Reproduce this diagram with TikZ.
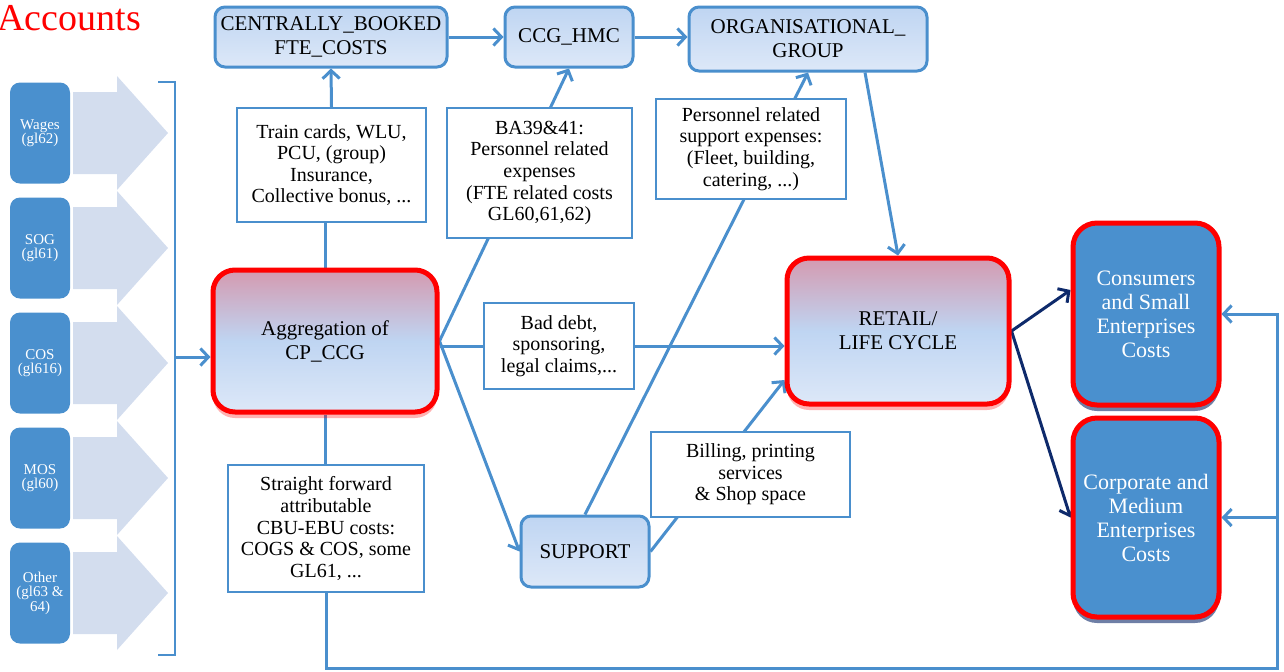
\documentclass[tikz,border=0pt]{standalone}
\usepackage{fontspec}
\setmainfont{Liberation Serif}
\usepackage{xcolor}
\usetikzlibrary{arrows.meta,shadows}
\pgfdeclarelayer{bg}
\pgfsetlayers{bg,main}

\begin{document}
\begin{tikzpicture}[x=0.5pt,y=-0.5pt,
  conn/.style={draw=lnblue,line width=1.5pt},
  arr/.style={conn,-{Straight Barb[length=4pt,width=8.5pt]}},
  darr/.style={draw=navy,line width=1.5pt,-{Straight Barb[length=4pt,width=8.5pt]}},
  glbox/.style={rounded corners=5pt,fill=glblue,text=white,minimum width=30pt,minimum height=50.5pt,inner sep=1pt,align=center,font=\fontsize{7.5}{7.2}\selectfont},
  flowbox/.style={draw=lnblue,line width=1.5pt,rounded corners=5pt,top color=boxtop,bottom color=boxbot,align=center,inner sep=2pt,font=\fontsize{10.5}{12}\selectfont},
  hotbox/.style={draw=red,line width=2.5pt,rounded corners=11pt,top color=hottop,bottom color=boxbot,middle color=boxtop,align=center,font=\fontsize{10.5}{12}\selectfont,drop shadow={shadow xshift=0pt,shadow yshift=-3pt,fill=red,opacity=0.3}},
  endbox/.style={draw=red,line width=2.5pt,rounded corners=12pt,fill=glblue,text=white,align=center,font=\fontsize{11}{12}\selectfont,minimum width=73pt,drop shadow={shadow xshift=0pt,shadow yshift=-3pt,fill=navy,opacity=0.6}},
  note/.style={draw=lnblue,line width=1pt,fill=white,align=center,inner sep=2pt,font=\fontsize{10}{10.8}\selectfont}]
\definecolor{lnblue}{HTML}{4A8FCD}
\definecolor{glblue}{HTML}{4A90CE}
\definecolor{navy}{HTML}{0E2A6B}
\definecolor{ghost}{HTML}{D3DDEE}
\definecolor{boxtop}{HTML}{BFD5F2}
\definecolor{boxbot}{HTML}{DDE8F8}
\definecolor{hottop}{HTML}{D49AB0}
\useasboundingbox (0,0) rectangle (1284,671);

\node[anchor=base west,text=red,inner sep=0,font=\fontsize{19}{19}\selectfont] (ttl) at (-3,30) {Accounts};

% general ledger columns
\foreach \lbl/\pos in {{Wages\\(gl62)}/133,{SOG\\(gl61)}/248,{COS\\(gl616)}/363,{MOS\\(gl60)}/478,{Other\\(gl63 \&\\64)}/593}
{ \fill[ghost] (73,\pos-41) -- (117,\pos-41) -- (117,\pos-57) -- (168,\pos) -- (117,\pos+57) -- (117,\pos+41) -- (73,\pos+41) -- cycle;
  \node[glbox] (gl\pos) at (40,\pos) {\lbl}; }
\draw[lnblue,line width=1pt] (158,82) -- (175,82) -- (175,655) -- (158,655);
\coordinate (brk) at (175,357);

% main flow
\node[hotbox,minimum width=112pt,minimum height=71pt] (agg) at (325,341) {Aggregation of\\CP\_CCG};
\node[flowbox,minimum width=116pt,minimum height=30pt] (cbf) at (331,37) {CENTRALLY\_BOOKED\\FTE\_COSTS};
\node[flowbox,minimum width=64pt,minimum height=30pt] (hmc) at (569,37) {CCG\_HMC};
\node[flowbox,minimum width=119pt,minimum height=32pt] (org) at (808,39) {ORGANISATIONAL\_\\GROUP};
\node[hotbox,minimum width=111pt,minimum height=73pt] (retail) at (898,331) {RETAIL/\\LIFE CYCLE};
\node[flowbox,minimum width=64pt,minimum height=35.5pt] (support) at (585,551.5) {SUPPORT};
\node[endbox,minimum height=91pt] (cse) at (1146,314) {Consumers\\and Small\\Enterprises\\Costs};
\node[endbox,minimum height=99.5pt] (cme) at (1146,517.5) {Corporate and\\Medium\\Enterprises\\Costs};

% cost notes
\node[note,minimum width=94.5pt,minimum height=57pt] (trn) at (331.5,165) {Train cards, WLU,\\PCU, (group)\\Insurance,\\Collective bonus, ...};
\node[note,minimum width=92.5pt,minimum height=65pt] (ba) at (539.5,173) {BA39\&41:\\Personnel related\\expenses\\(FTE related costs\\GL60,61,62)};
\node[note,minimum width=95pt,minimum height=50pt] (prs) at (751,149) {Personnel related\\support expenses:\\(Fleet, building,\\catering, ...)};
\node[note,minimum width=75pt,minimum height=43pt] (bad) at (559,346) {Bad debt,\\sponsoring,\\legal claims,...};
\node[note,minimum width=99.5pt,minimum height=42.5pt] (bil) at (750.5,474.5) {Billing, printing\\services\\\& Shop space};
\node[note,minimum width=98pt,minimum height=63.5pt] (sfw) at (326,528.5) {Straight forward\\attributable\\CBU-EBU costs:\\COGS \& COS, some\\GL61, ...};
\coordinate (lp) at (1277,668);

\begin{pgfonlayer}{bg}
\draw[arr] (brk) -- (brk -| agg.west);
\draw[arr] (cbf.east) -- (hmc.west);
\draw[arr] (hmc.east) -- (hmc.east -| org.west);
\draw[conn] (agg.north) -- (agg.north |- trn.south);
\draw[arr] (trn.north) -- (cbf.south);
\draw[arr] (agg.east) -- (hmc.south);
\draw[arr] (agg.east |- bad) -- (retail.west |- bad);
\draw[arr] (agg.east) -- (support.west);
\draw[arr] (support.north) -- (org.south);
\draw[arr] ([xshift=28.5pt]org.south) -- (retail.north);
\draw[arr] (support.east) -- ([yshift=-24.5pt]retail.west);
\draw[darr] (retail.east) -- ([yshift=12pt]cse.west);
\draw[darr] (retail.east) -- (cme.west);
\draw[conn] (agg.south) -- (agg.south |- sfw.north);
\draw[arr] (sfw.south) -- (sfw.south |- lp) -- (lp) |- (cse.east);
\draw[arr] (lp |- cme.east) -- (cme.east);
\end{pgfonlayer}
\end{tikzpicture}
\end{document}
